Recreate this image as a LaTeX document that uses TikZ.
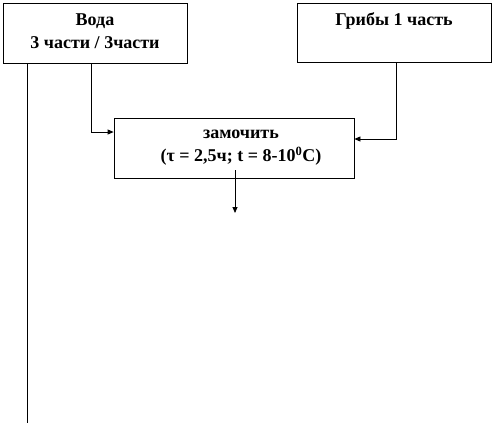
\documentclass[tikz,border=0pt]{standalone}
\usepackage{fontspec}
\setmainfont{Liberation Serif}
\usetikzlibrary{arrows.meta}
\begin{document}
\begin{tikzpicture}[x=1pt,y=-1pt,
  box/.style={draw,line width=0.8pt,inner sep=0pt},
  lbl/.style={font=\bfseries\fontsize{18}{23}\selectfont,align=center,inner sep=0pt},
  conn/.style={line width=0.8pt},
  arr/.style={conn,-{Triangle[length=6pt,width=5pt]}}]
\useasboundingbox (0,0) rectangle (494,424);
\node[box,minimum width=184pt,minimum height=60pt] (voda) at (95,33) {};
\node[lbl] (vodat) at (95,31) {Вода\\3 части / 3части};
\node[box,minimum width=194pt,minimum height=59pt] (grib) at (394,32.5) {};
\node[lbl] (gribt) at (394,21) {Грибы 1 часть};
\node[box,minimum width=240pt,minimum height=60pt] (zam) at (234,148) {};
\node[lbl] (zamt) at (241,148) {замочить\\ (τ = 2,5ч; t = 8-10\textsuperscript{0}C)};
\coordinate (a1) at (91,63);
\coordinate (a2) at (91,132);
\coordinate (b1) at (396,63);
\coordinate (b2) at (396,139);
\coordinate (c1) at (235,170);
\coordinate (c2) at (235,213);
\coordinate (d1) at (27,63);
\coordinate (d2) at (27,423);
\draw[conn] (d1) -- (d2);
\draw[arr] (a1) -- (a2) -- (zam.west |- a2);
\draw[arr] (b1) -- (b2) -- (zam.east |- b2);
\draw[arr] (c1) -- (c2);
\end{tikzpicture}
\end{document}
